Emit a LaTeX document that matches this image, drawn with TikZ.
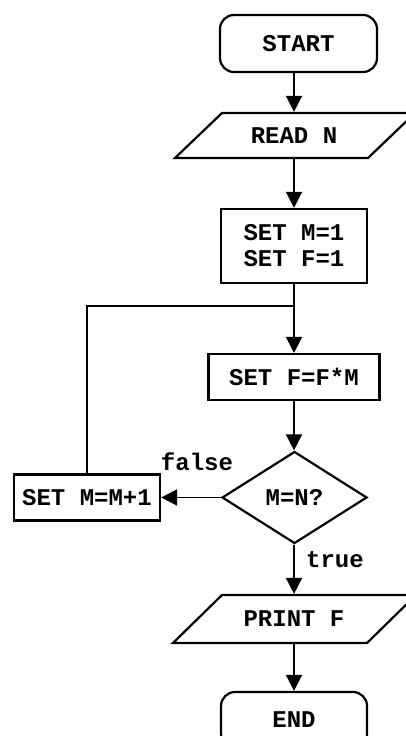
\documentclass[tikz,border=0pt]{standalone}
\usepackage{fontspec}
\setmainfont{Liberation Mono}
\usetikzlibrary{shapes.geometric,arrows.meta}
\begin{document}
\begin{tikzpicture}[x=1pt,y=-1pt,
  every node/.style={font=\fontsize{24}{26}\selectfont\bfseries, inner sep=0pt, line width=2.2pt},
  term/.style={draw, rounded corners=14pt, align=center},
  proc/.style={draw, rectangle, align=center},
  io/.style={align=center},
  cond/.style={draw, diamond, aspect=1.576},
  lbl/.style={font=\fontsize{24}{26}\selectfont\bfseries},
  arr/.style={line width=1.6pt, -{Triangle[length=16pt,width=16pt]}},
  ln/.style={line width=1.6pt}]
\useasboundingbox (0,0) rectangle (406,736);
\clip (0,0) rectangle (406,736);
\node[term, minimum width=157pt, minimum height=57pt] (start) at (298.5,43.5) {START};
\node[io, minimum width=146pt, minimum height=45pt] (read) at (294,135.5) {READ N};
\draw[line width=2.2pt] (222,113) -- (415,113) -- (368,158) -- (175,158) -- cycle;
\node[proc, minimum width=146pt, minimum height=74pt] (init) at (294,246) {SET M=1\\SET F=1};
\coordinate (j) at (294,306);
\node[proc, minimum width=171pt, minimum height=46pt] (mult) at (294,377) {SET F=F*M};
\node[cond, minimum width=145pt, minimum height=92pt] (dec) at (294.5,497.5) {M=N?};
\node[proc, minimum width=146pt, minimum height=46pt] (inc) at (87,497.5) {SET M=M+1};
\node[io, minimum width=146pt, minimum height=48pt] (print) at (294,619) {PRINT F};
\draw[line width=2.2pt] (222,595) -- (416,595) -- (367,643) -- (173,643) -- cycle;
\node[term, minimum width=146pt, minimum height=56pt] (end) at (294,720) {END};
\node[lbl] (fl) at (197,462) {false};
\node[lbl] (tl) at (335,560) {true};
\draw[arr] (start.south -| read.north) -- (read.north);
\draw[arr] (read.south) -- (init.north);
\draw[ln] (init.south) -- (j);
\draw[arr] (j) -- (mult.north);
\draw[arr] (mult.south) -- (dec.north -| mult.south);
\draw[arr] (dec.west) -- (inc.east);
\draw[ln] (inc.north) -- (inc.north |- j) -- (j);
\draw[arr] (dec.south -| print.north) -- (print.north);
\draw[arr] (print.south) -- (end.north);
\end{tikzpicture}
\end{document}
